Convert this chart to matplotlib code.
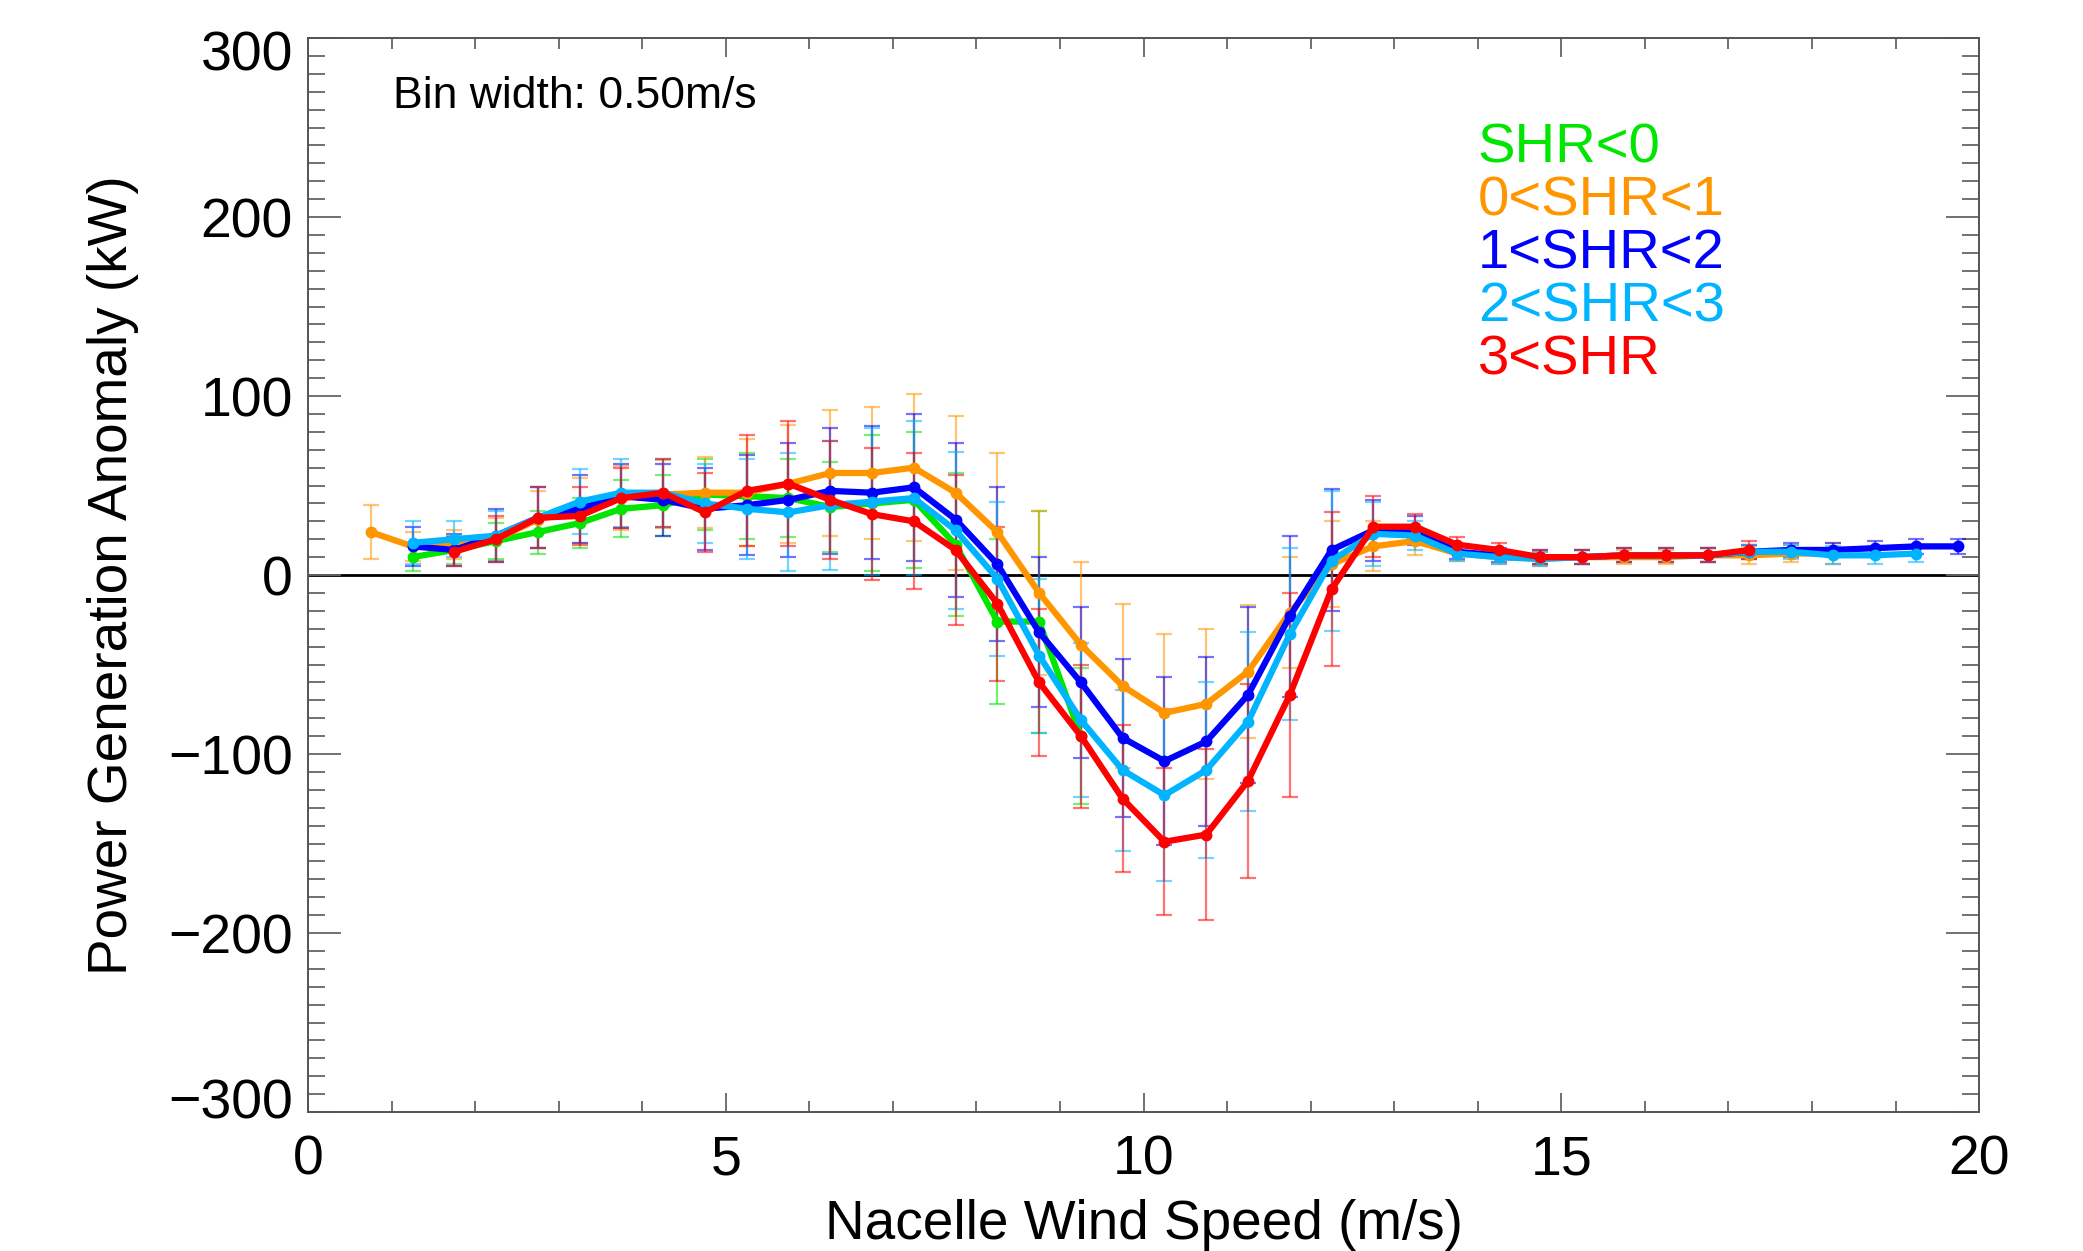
import numpy as np
import matplotlib
matplotlib.use("Agg")
import matplotlib.pyplot as plt
from matplotlib.ticker import MultipleLocator
from matplotlib.transforms import ScaledTranslation

plt.rcParams["font.family"] = ["Liberation Sans", "DejaVu Sans"]

# bin centres for 0.5 m/s bins
bin_width = 0.5
wind_bins = np.arange(0.75, 20.0, bin_width)

labels = ["SHR<0", "0<SHR<1", "1<SHR<2", "2<SHR<3", "3<SHR"]
colors = ["#00e600", "#ff9600", "#0000ff", "#00b4ff", "#ff0000"]
first_bin = [1, 0, 1, 1, 2]  # index into wind_bins where each class starts

shr_neg = [10, 14, 19, 24, 29, 37, 39, 45, 44, 43, 38, 40, 42, 17, -26, -26, -90]
shr_neg_err = [8, 8, 10, 12, 14, 16, 17, 20, 24, 22, 25, 38, 38, 40, 46, 62, 38]

shr_0_1 = [24, 16, 17, 20, 31, 36, 43, 45, 46, 46, 51, 57, 57, 60, 46, 24, -10, -39,
           -62, -77, -72, -54, -21, 6, 16, 19, 12, 10, 9, 10, 10, 10, 11, 11, 12, 12]
shr_0_1_err = [15, 8, 8, 12, 16, 18, 18, 19, 20, 30, 33, 35, 37, 41, 43, 44, 46, 46,
               46, 44, 42, 37, 31, 24, 14, 8, 4, 4, 4, 4, 4, 4, 4, 5, 5, 6]

shr_1_2 = [16, 14, 22, 32, 37, 44, 42, 37, 39, 42, 47, 46, 49, 31, 6, -32, -60, -91,
           -104, -93, -67, -23, 14, 25, 25, 13, 11, 10, 10, 11, 11, 11, 13, 14, 14, 15, 16, 16]
shr_1_2_err = [11, 9, 15, 17, 19, 18, 20, 23, 28, 32, 35, 37, 41, 43, 43, 42, 42, 44,
               47, 47, 49, 45, 34, 17, 8, 4, 4, 4, 4, 4, 4, 4, 4, 4, 4, 4, 4, 4]

shr_2_3 = [18, 20, 22, 32, 41, 46, 46, 40, 37, 35, 39, 41, 43, 25, -2, -45, -81, -109,
           -123, -109, -82, -33, 8, 23, 22, 12, 10, 9, 10, 11, 11, 11, 13, 13, 11, 11, 12]
shr_2_3_err = [12, 10, 14, 17, 18, 19, 19, 22, 28, 33, 36, 41, 43, 44, 43, 43, 43, 45,
               48, 49, 50, 48, 39, 18, 8, 4, 4, 4, 4, 4, 4, 4, 4, 4, 5, 5, 5]

shr_gt3 = [13, 20, 32, 33, 43, 46, 35, 47, 51, 42, 34, 30, 14, -16, -60, -90, -125,
           -149, -145, -115, -67, -8, 27, 27, 17, 14, 10, 10, 11, 11, 11, 14]
shr_gt3_err = [8, 13, 17, 16, 17, 19, 22, 31, 35, 33, 37, 38, 42, 43, 41, 40, 41,
               41, 48, 54, 57, 43, 17, 7, 4, 4, 4, 4, 4, 4, 4, 5]

series = [shr_neg, shr_0_1, shr_1_2, shr_2_3, shr_gt3]
errors = [shr_neg_err, shr_0_1_err, shr_1_2_err, shr_2_3_err, shr_gt3_err]

fig = plt.figure(figsize=(20.83, 12.51), dpi=100)
ax = fig.add_axes([0.1479, 0.1111, 0.8022, 0.8585])

ax.axhline(0, color="black", lw=2, zorder=1)

for i, (vals, errs) in enumerate(zip(series, errors)):
    x = wind_bins[first_bin[i]:first_bin[i] + len(vals)]
    ax.errorbar(x, vals, yerr=errs, fmt="none", ecolor=colors[i],
                elinewidth=1.6, capsize=6, capthick=1.6, alpha=0.55,
                zorder=2 + i)
    ax.plot(x, vals, "-o", color=colors[i], lw=4.5, ms=7.5, zorder=10 + i)

ax.set_xlim(0, 20)
ax.set_ylim(-300, 300)
ax.xaxis.set_major_locator(MultipleLocator(5))
ax.xaxis.set_minor_locator(MultipleLocator(1))
ax.yaxis.set_major_locator(MultipleLocator(100))
ax.yaxis.set_minor_locator(MultipleLocator(10))

tick_col = "#666666"
ax.tick_params(which="both", direction="in", top=True, right=True,
               color=tick_col, width=1.3, labelsize=40)
ax.tick_params(axis="x", which="major", length=14, pad=16)
ax.tick_params(axis="x", which="minor", length=8)
ax.tick_params(axis="y", which="major", length=24, pad=11)
ax.tick_params(axis="y", which="minor", length=12)
for sp in ax.spines.values():
    sp.set_color("#555555")
    sp.set_linewidth(1.4)

ax.set_xlabel("Nacelle Wind Speed (m/s)", fontsize=39.5, va="center")
ax.xaxis.set_label_coords(0.5, -0.105)
ax.set_ylabel("Power Generation Anomaly (kW)", fontsize=39.5, va="center")
ax.yaxis.set_label_coords(-0.1167, 0.5)

ax.text(0.051, 0.946, "Bin width: 0.50m/s", transform=ax.transAxes,
        fontsize=32, ha="left", va="center")

for i, lab in enumerate(labels):
    ax.text(0.700, 0.897 - 0.0494 * i, lab, transform=ax.transAxes,
            color=colors[i], fontsize=40.5, ha="left", va="center")

# pull the end y labels inside the axis range, as in the original
fig.canvas.draw()
yticks = ax.yaxis.get_major_ticks()
for tk, val in zip(yticks, ax.get_yticks()):
    if val == 300:
        shift = ScaledTranslation(0, -9 / 72, fig.dpi_scale_trans)
    elif val == -300:
        shift = ScaledTranslation(0, 10 / 72, fig.dpi_scale_trans)
    else:
        continue
    tk.label1.set_transform(tk.label1.get_transform() + shift)

fig.savefig("out.png", dpi=100)
